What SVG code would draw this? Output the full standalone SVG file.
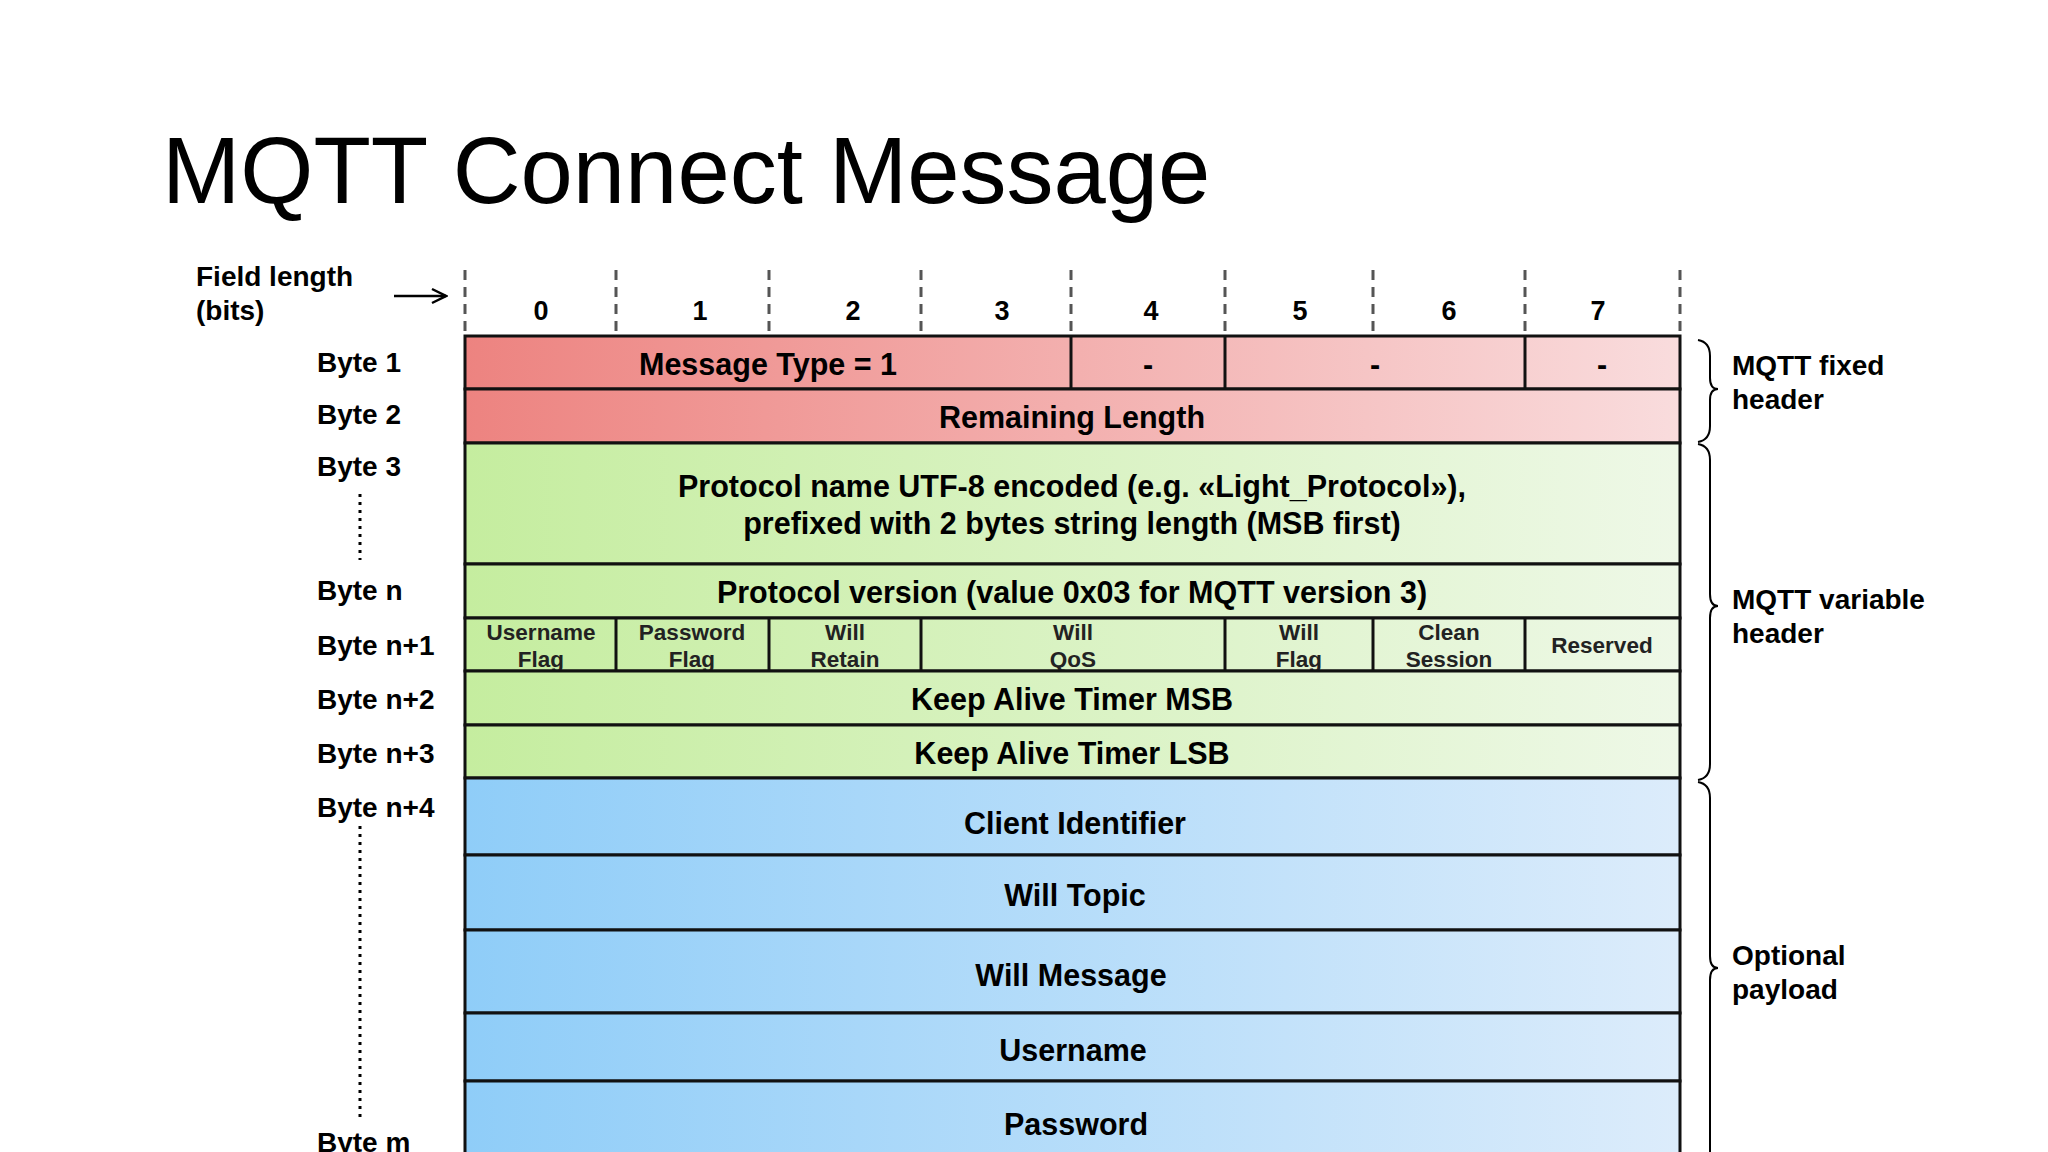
<svg xmlns="http://www.w3.org/2000/svg" width="2048" height="1152" viewBox="0 0 2048 1152">
<defs>
<linearGradient id="gr" x1="0" x2="1" y1="0" y2="0"><stop offset="0" stop-color="#ed8380"/><stop offset="1" stop-color="#f9dcdd"/></linearGradient>
<linearGradient id="gg" x1="0" x2="1" y1="0" y2="0"><stop offset="0" stop-color="#c5ed9f"/><stop offset="1" stop-color="#eef8e7"/></linearGradient>
<linearGradient id="gb" x1="0" x2="1" y1="0" y2="0"><stop offset="0" stop-color="#8fcdf8"/><stop offset="1" stop-color="#dcecfb"/></linearGradient>
<marker id="ah" markerWidth="18" markerHeight="18" refX="16" refY="9" orient="auto" markerUnits="userSpaceOnUse"><path d="M2,2 L16,9 L2,16" fill="none" stroke="#000" stroke-width="2.5"/></marker>
</defs>
<style>
text{font-family:"Liberation Sans",Arial,sans-serif;fill:#000}
.lab{font-size:28px;font-weight:bold}
.cell{font-size:30.5px;font-weight:bold;text-anchor:middle}
.sm{font-size:22.5px;font-weight:bold;text-anchor:middle;fill:#222}
.bit{font-size:27px;font-weight:bold;text-anchor:middle}
.r{stroke:#111;stroke-width:3}
.dash{stroke:#555;stroke-width:3;stroke-dasharray:10,7}
.dot{stroke:#000;stroke-width:3;stroke-dasharray:3,5}
.br{fill:none;stroke:#000;stroke-width:2}
</style>
<rect width="2048" height="1152" fill="#fff"/>
<text x="162" y="203" font-size="94">MQTT Connect Message</text>
<g id="fieldlen"><text x="196" y="286" class="lab">Field length</text><text x="196" y="320" class="lab">(bits)</text></g>
<g id="connectors">
<line x1="394" y1="296" x2="446" y2="296" stroke="#000" stroke-width="2.5" marker-end="url(#ah)"/>
<g class="dash">
<line x1="465" y1="270" x2="465" y2="336"/><line x1="616" y1="270" x2="616" y2="336"/><line x1="769" y1="270" x2="769" y2="336"/><line x1="921" y1="270" x2="921" y2="336"/><line x1="1071" y1="270" x2="1071" y2="336"/><line x1="1225" y1="270" x2="1225" y2="336"/><line x1="1373" y1="270" x2="1373" y2="336"/><line x1="1525" y1="270" x2="1525" y2="336"/><line x1="1680" y1="270" x2="1680" y2="336"/>
</g>
<line class="dot" x1="360" y1="494" x2="360" y2="560"/>
<line class="dot" x1="360" y1="826" x2="360" y2="1120"/>
<path class="br" d="M1698,340 Q1710,342 1710,356 L1710,378 Q1710,389 1718,389 Q1710,389 1710,400 L1710,426 Q1710,440 1698,442"/>
<path class="br" d="M1698,444 Q1710,446 1710,460 L1710,594 Q1710,606 1718,606 Q1710,606 1710,618 L1710,764 Q1710,778 1698,780"/>
<path class="br" d="M1698,782 Q1710,784 1710,798 L1710,956 Q1710,968 1718,968 Q1710,968 1710,980 L1710,1152"/>
</g>
<g id="bits">
<text class="bit" x="541" y="320">0</text><text class="bit" x="700" y="320">1</text><text class="bit" x="853" y="320">2</text><text class="bit" x="1002" y="320">3</text><text class="bit" x="1151" y="320">4</text><text class="bit" x="1300" y="320">5</text><text class="bit" x="1449" y="320">6</text><text class="bit" x="1598" y="320">7</text>
</g>
<g id="bytelabels">
<text class="lab" x="317" y="372">Byte 1</text><text class="lab" x="317" y="424">Byte 2</text><text class="lab" x="317" y="476">Byte 3</text><text class="lab" x="317" y="600">Byte n</text><text class="lab" x="317" y="655">Byte n+1</text><text class="lab" x="317" y="709">Byte n+2</text><text class="lab" x="317" y="763">Byte n+3</text><text class="lab" x="317" y="817">Byte n+4</text><text class="lab" x="317" y="1152">Byte m</text>
</g>
<g id="byte1">
<rect class="r" x="465" y="336" width="1215" height="53" fill="url(#gr)"/>
<line class="r" x1="1071" y1="336" x2="1071" y2="389"/><line class="r" x1="1225" y1="336" x2="1225" y2="389"/><line class="r" x1="1525" y1="336" x2="1525" y2="389"/>
<text class="cell" x="768" y="375">Message Type = 1</text>
<text class="cell" x="1148" y="375">-</text><text class="cell" x="1375" y="375">-</text><text class="cell" x="1602" y="375">-</text>
</g>
<g id="byte2"><rect class="r" x="465" y="389" width="1215" height="54" fill="url(#gr)"/><text class="cell" x="1072" y="428">Remaining Length</text></g>
<g id="byte3"><rect class="r" x="465" y="443" width="1215" height="121" fill="url(#gg)"/><text class="cell" x="1072" y="497">Protocol name UTF-8 encoded (e.g. «Light_Protocol»),</text><text class="cell" x="1072" y="534">prefixed with 2 bytes string length (MSB first)</text></g>
<g id="byten"><rect class="r" x="465" y="564" width="1215" height="54" fill="url(#gg)"/><text class="cell" x="1072" y="603">Protocol version (value 0x03 for MQTT version 3)</text></g>
<g id="byten1"><rect class="r" x="465" y="618" width="1215" height="53" fill="url(#gg)"/>
<line class="r" x1="616" y1="618" x2="616" y2="671"/><line class="r" x1="769" y1="618" x2="769" y2="671"/><line class="r" x1="921" y1="618" x2="921" y2="671"/><line class="r" x1="1225" y1="618" x2="1225" y2="671"/><line class="r" x1="1373" y1="618" x2="1373" y2="671"/><line class="r" x1="1525" y1="618" x2="1525" y2="671"/>
<text class="sm" x="541" y="640">Username</text><text class="sm" x="541" y="667">Flag</text>
<text class="sm" x="692" y="640">Password</text><text class="sm" x="692" y="667">Flag</text>
<text class="sm" x="845" y="640">Will</text><text class="sm" x="845" y="667">Retain</text>
<text class="sm" x="1073" y="640">Will</text><text class="sm" x="1073" y="667">QoS</text>
<text class="sm" x="1299" y="640">Will</text><text class="sm" x="1299" y="667">Flag</text>
<text class="sm" x="1449" y="640">Clean</text><text class="sm" x="1449" y="667">Session</text>
<text class="sm" x="1602" y="653">Reserved</text>
</g>
<g id="byten2"><rect class="r" x="465" y="671" width="1215" height="54" fill="url(#gg)"/><text class="cell" x="1072" y="710">Keep Alive Timer MSB</text></g>
<g id="byten3"><rect class="r" x="465" y="725" width="1215" height="53" fill="url(#gg)"/><text class="cell" x="1072" y="764">Keep Alive Timer LSB</text></g>
<g id="clientid"><rect class="r" x="465" y="778" width="1215" height="77" fill="url(#gb)"/><text class="cell" x="1075" y="834">Client Identifier</text></g>
<g id="willtopic"><rect class="r" x="465" y="855" width="1215" height="75" fill="url(#gb)"/><text class="cell" x="1075" y="906">Will Topic</text></g>
<g id="willmsg"><rect class="r" x="465" y="930" width="1215" height="83" fill="url(#gb)"/><text class="cell" x="1071" y="986">Will Message</text></g>
<g id="username"><rect class="r" x="465" y="1013" width="1215" height="68" fill="url(#gb)"/><text class="cell" x="1073" y="1061">Username</text></g>
<g id="password"><rect class="r" x="465" y="1081" width="1215" height="80" fill="url(#gb)"/><text class="cell" x="1076" y="1135">Password</text></g>
<g id="groups">
<text class="lab" x="1732" y="375" font-size="29.5">MQTT fixed</text><text class="lab" x="1732" y="409" font-size="29.5">header</text>
<text class="lab" x="1732" y="609" font-size="29.5">MQTT variable</text><text class="lab" x="1732" y="643" font-size="29.5">header</text>
<text class="lab" x="1732" y="965" font-size="29.5">Optional</text><text class="lab" x="1732" y="999" font-size="29.5">payload</text>
</g>
</svg>
